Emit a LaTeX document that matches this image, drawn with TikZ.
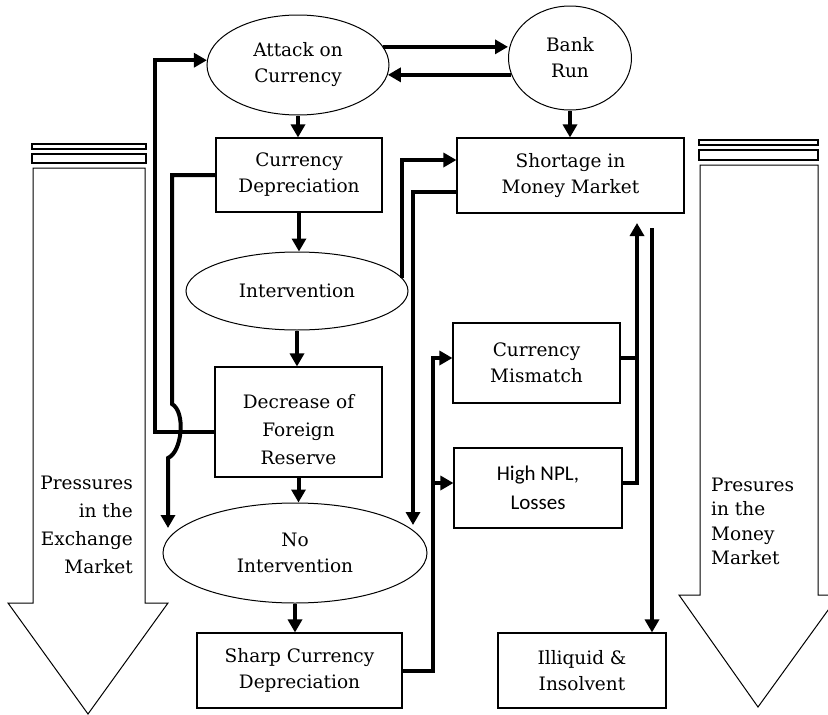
\documentclass[tikz,border=0pt]{standalone}
\usepackage{fontspec}
\setmainfont{DejaVu Serif}
\newfontfamily\carl{Carlito}
\usetikzlibrary{shapes.geometric,arrows.meta,calc}
\begin{document}
\begin{tikzpicture}[x=1pt,y=-1pt,
  every node/.style={font=\fontsize{18.5}{26}\selectfont, align=center, inner sep=0pt},
  boxn/.style={draw, line width=1.1pt, rectangle},
  elln/.style={draw, ellipse, line width=1pt},
  conn/.style={line width=4pt, -{Triangle[length=13pt,width=14pt]}},
  plainline/.style={line width=4pt},
  bigarrow/.style={draw, line width=1pt, fill=white, line join=miter},
  barrect/.style={draw, line width=1.2pt, fill=white}]
\useasboundingbox (0,0) rectangle (828,715);

% big arrows
\draw[bigarrow] (33,168) -- (145,168) -- (145,603) -- (168,603) -- (88,714) -- (8,603) -- (33,603) -- cycle;
\draw[barrect] (32,144) rectangle (146,149);
\draw[barrect] (32,154) rectangle (146,163);
\node[anchor=east, align=right, font=\fontsize{18.5}{28}\selectfont] (lt) at (133,525) {Pressures\\in the\\Exchange\\Market};

\draw[bigarrow] (700,165) -- (818,165) -- (818,595) -- (839,595) -- (758,707) -- (679,595) -- (700,595) -- cycle;
\draw[barrect] (699,140) rectangle (818,145);
\draw[barrect] (699,150) rectangle (818,160);
\node[anchor=west, align=left, font=\fontsize{18.5}{24.5}\selectfont] (rt) at (711,521.5) {Presures\\in the\\Money\\Market};

% nodes
\node[elln, minimum width=182pt, minimum height=100pt] (att) at (298,65) {Attack on\\Currency};
\node[elln, minimum width=123pt, minimum height=104pt] (bank) at (570,58) {Bank\\Run};
\node[boxn, minimum width=166pt, minimum height=74pt] (cd) at (299,175) {Currency\\Depreciation};
\node[boxn, minimum width=227pt, minimum height=75pt] (sm) at (570.5,175.5) {Shortage in\\Money Market};
\node[elln, minimum width=222pt, minimum height=78pt] (int) at (297,291) {Intervention};
\node[boxn, minimum width=167pt, minimum height=110pt] (dfr) at (298.5,422) {};
\node[font=\fontsize{18.5}{28}\selectfont] (dfrt) at (298.5,430) {Decrease of\\Foreign\\Reserve};
\node[elln, minimum width=264pt, minimum height=100pt] (noi) at (295,553) {No\\Intervention};
\node[boxn, minimum width=205pt, minimum height=75pt] (scd) at (299.5,670.5) {Sharp Currency\\Depreciation};
\node[boxn, minimum width=167pt, minimum height=80pt] (cm) at (536.5,363) {Currency\\Mismatch};
\node[boxn, minimum width=168pt, minimum height=80pt, font=\carl\fontsize{21}{29}\selectfont] (npl) at (538,488) {High NPL,\\Losses};
\node[boxn, minimum width=168pt, minimum height=75pt] (ill) at (582,670.5) {Illiquid \&\\Insolvent};

% helper coordinates
\coordinate (lx) at (155,250);
\coordinate (j1) at (172,404);
\coordinate (j2) at (168,458);
\coordinate (nt) at (168,528);
\coordinate (nt2) at (413,525);
\coordinate (vx) at (433,420);
\coordinate (up1) at (637,223);
\coordinate (dn1) at (652,228);

% connectors
\draw[conn] (att.12) -- (att.12 -| bank.west);
\draw[conn] (bank.196) -- (bank.196 -| att.-6);
\draw[conn] (att.south) -- (att.south |- cd.north);
\draw[conn] (bank.south) -- (bank.south |- sm.north);
\draw[conn] (cd.south) -- (cd.south |- int.north);
\draw[conn] (int.south) -- (int.south |- dfr.north);
\draw[conn] (dfr.south) -- (dfr.south |- noi.north);
\draw[conn] (noi.south) -- (noi.south |- scd.north);

\draw[conn] ([yshift=-10pt]dfr.west) -| (lx) |- (att.177);
\draw[conn] (cd.west) -| (j1) .. controls +(14,8) and +(14,-6) .. (j2) -- (nt);

\draw[conn] (int.7) |- ([yshift=15.5pt]sm.west);
\draw[conn] ([yshift=-16.5pt]sm.west) -| (nt2);

\draw[conn] (scd.east) -| (vx) |- ([yshift=5pt]cm.west);
\draw[conn] ([yshift=5pt]npl.west -| vx) -- ([yshift=5pt]npl.west);

\draw[plainline] ([yshift=5pt]cm.east) -- ([yshift=5pt]cm.east -| up1);
\draw[conn] ([yshift=5pt]npl.east) -| (up1);

\draw[conn] (dn1) -- (dn1 |- ill.north);
\end{tikzpicture}
\end{document}
